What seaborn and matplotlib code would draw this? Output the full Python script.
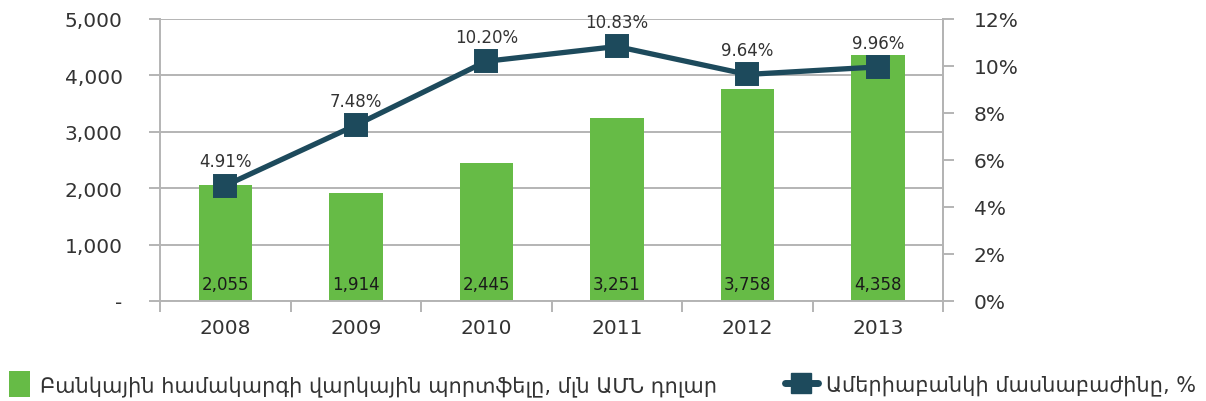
import numpy as np
import pandas as pd
import matplotlib
matplotlib.use('Agg')
import matplotlib.pyplot as plt
import seaborn as sns
from matplotlib.lines import Line2D
from matplotlib.patches import Patch
from matplotlib.ticker import FixedLocator, FuncFormatter

sns.set_style('white')
plt.rcParams['font.family'] = ['DejaVu Sans']

# data
years = ['2008', '2009', '2010', '2011', '2012', '2013']
loans = [2055, 1914, 2445, 3251, 3758, 4358]
share = [4.91, 7.48, 10.20, 10.83, 9.64, 9.96]
loan_label = 'Բանկային համակարգի վարկային պորտֆելը, մլն ԱՄՆ դոլար'
share_label = 'Ամերիաբանկի մասնաբաժինը, %'

GREEN = '#66bb46'
NAVY = '#1d4a5c'
GRID = '#b4b4b4'
TXT = '#333333'

df = pd.DataFrame({'year': years, 'loans': loans, 'share': share})

fig = plt.figure(figsize=(12.06, 4.02), dpi=100)
ax = fig.add_axes([0.1327, 0.2488, 0.6493, 0.7015])

sns.barplot(data=df, x='year', y='loans', color=GREEN, width=0.41,
            saturation=1, linewidth=0, ax=ax, zorder=2)
ax.set_ylim(0, 5000)
ax.set_yticks([0, 1000, 2000, 3000, 4000, 5000])
ax.yaxis.set_major_formatter(FuncFormatter(lambda v, p: '-' if v == 0 else f'{int(v):,}'))
ax.yaxis.grid(True, color=GRID, lw=1.4, zorder=0)
ax.set_axisbelow(True)
ax.set_xlabel('')
ax.set_ylabel('')
ax.spines['top'].set_visible(False)
for s in ['left', 'right', 'bottom']:
    ax.spines[s].set_color(GRID)
    ax.spines[s].set_linewidth(1.4)
ax.tick_params(axis='y', length=8, width=1.4, color=GRID, pad=19,
               labelsize=14.5, labelcolor=TXT, left=True)
ax.tick_params(axis='x', which='major', length=0, pad=12, labelsize=14.5, labelcolor=TXT)
ax.xaxis.set_minor_locator(FixedLocator(np.arange(len(years) + 1) - 0.5))
ax.tick_params(axis='x', which='minor', length=8, width=1.4, color=GRID, bottom=True)

# value labels at the foot of each bar
for i, v in enumerate(loans):
    ax.annotate(f'{v:,}', xy=(i, 0), xytext=(0, 6), textcoords='offset points',
                ha='center', va='bottom', fontsize=12, color='#1a1a1a', zorder=3)

ax2 = ax.twinx()
sns.pointplot(data=df, x='year', y='share', color=NAVY, markers='s',
              markersize=15, linewidth=3.8, ax=ax2)
for ln in ax2.lines:
    ln.set_zorder(4)
    ln.set_markeredgecolor(NAVY)
ax2.set_ylim(0, 12)
ax2.set_xlim(-0.5, len(years) - 0.5)
ax2.set_yticks(range(0, 13, 2))
ax2.yaxis.set_major_formatter(FuncFormatter(lambda v, p: f'{int(v)}%'))
ax2.set_ylabel('')
ax2.set_xlabel('')
for s in ['top', 'left', 'bottom']:
    ax2.spines[s].set_visible(False)
ax2.spines['right'].set_color(GRID)
ax2.spines['right'].set_linewidth(1.4)
ax2.tick_params(axis='y', length=8, width=1.4, color=GRID, pad=14,
                labelsize=14.5, labelcolor=TXT)

for i, v in enumerate(share):
    ax2.annotate(f'{v:.2f}%', xy=(i, v), xytext=(0, 11), textcoords='offset points',
                 ha='center', va='bottom', fontsize=12, color=TXT, zorder=5)

h1 = Patch(facecolor=GREEN, edgecolor='none')
h2 = Line2D([], [], color=NAVY, lw=5, marker='s', markersize=14)
fig.legend([h1], [loan_label], loc='center left', bbox_to_anchor=(-0.008, 0.042),
           frameon=False, fontsize=15, handlelength=1.0, handleheight=1.5,
           handletextpad=0.5, labelcolor=TXT)
fig.legend([h2], [share_label], loc='center left', bbox_to_anchor=(0.635, 0.042),
           frameon=False, fontsize=15, handlelength=1.6,
           handletextpad=0.4, labelcolor=TXT)

fig.savefig('out.png', dpi=100)
